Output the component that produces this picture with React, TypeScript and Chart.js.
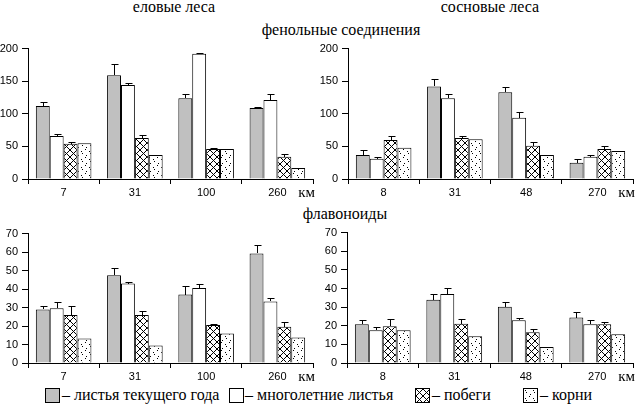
import React, { useEffect, useRef, useMemo } from 'react';
import { Chart, registerables } from 'chart.js';

Chart.register(...registerables);

const SERIF = '"Liberation Serif", "Times New Roman", "DejaVu Serif", serif';
const SANS = '"Liberation Sans", Arial, sans-serif';

// categories (distance, km)
const spruceKm = ['7', '31', '100', '260'];
const pineKm = ['8', '31', '48', '270'];

// y ranges [min, max, step]
const phenolRange = [0, 200, 50];
const flavRange = [0, 70, 10];

// series names
const seriesNames = ['листья текущего года', 'многолетние листья', 'побеги', 'корни'];

// phenolic compounds – spruce
const sprPhenCurrent = [112, 159, 124, 109];
const sprPhenCurrentErr = [6, 18, 6, 1];
const sprPhenPerennial = [66, 144, 192, 121];
const sprPhenPerennialErr = [3, 4, 1, 9];
const sprPhenShoots = [54, 63, 46, 34];
const sprPhenShootsErr = [3, 5, 1, 5];
const sprPhenRoots = [55, 37, 46, 17];

// phenolic compounds – pine
const pinPhenCurrent = [37, 142, 133, 25];
const pinPhenCurrentErr = [8, 12, 8, 5];
const pinPhenPerennial = [31, 124, 94, 34];
const pinPhenPerennialErr = [3, 6, 8, 3];
const pinPhenShoots = [60, 63, 51, 46];
const pinPhenShootsErr = [6, 3, 6, 5];
const pinPhenRoots = [48, 61, 37, 43];

// flavonoids – spruce
const sprFlavCurrent = [29, 47.5, 37, 59.3];
const sprFlavCurrentErr = [2, 3.7, 4.8, 4.7];
const sprFlavPerennial = [29.6, 43, 40.6, 33.3];
const sprFlavPerennialErr = [3.4, 1, 2.3, 2.1];
const sprFlavShoots = [25.9, 25.9, 20.6, 19.6];
const sprFlavShootsErr = [4.8, 2.1, 0.6, 2.6];
const sprFlavRoots = [13.2, 9.5, 15.9, 13.8];

// flavonoids – pine
const pinFlavCurrent = [20.8, 33.9, 30.2, 24.4];
const pinFlavCurrentErr = [2.1, 3.2, 2.7, 3.2];
const pinFlavPerennial = [17.6, 37.1, 22.9, 20.8];
const pinFlavPerennialErr = [1.9, 3.2, 1, 2.1];
const pinFlavShoots = [19.7, 21.1, 16.5, 20.8];
const pinFlavShootsErr = [3.7, 2.3, 1.6, 1];
const pinFlavRoots = [17.6, 14.4, 8.6, 15.5];

function makeTile(kind: string): HTMLCanvasElement {
  const n = kind === 'cross' ? 7 : 8;
  const c = document.createElement('canvas');
  c.width = n;
  c.height = n;
  const g = c.getContext('2d')!;
  g.fillStyle = '#fff';
  g.fillRect(0, 0, n, n);
  g.fillStyle = '#000';
  if (kind === 'cross') {
    for (let i = 0; i < n; i++) {
      g.fillRect(i, i, 1, 1);
      g.fillRect(n - 1 - i, i, 1, 1);
    }
  } else {
    const pts = [[1, 1], [2, 3], [6, 5], [5, 7]];
    pts.forEach(([x, y]) => g.fillRect(x, y, 1, 1));
  }
  return c;
}

const errorBarPlugin = {
  id: 'errbars',
  afterDatasetsDraw(chart: any) {
    const ctx = chart.ctx;
    const ys = chart.scales.y;
    ctx.save();
    ctx.strokeStyle = '#000';
    ctx.lineWidth = 1;
    chart.data.datasets.forEach((ds: any, i: number) => {
      const errs = ds.errors;
      if (!errs) return;
      const meta = chart.getDatasetMeta(i);
      meta.data.forEach((bar: any, j: number) => {
        const e = errs[j];
        if (!e) return;
        const v = ds.data[j];
        const x = Math.round(bar.x) + 0.5;
        const y0 = Math.round(bar.y);
        const y1 = Math.round(ys.getPixelForValue(v + e)) + 0.5;
        ctx.beginPath();
        ctx.moveTo(x, y0);
        ctx.lineTo(x, y1);
        ctx.moveTo(x - 3, y1);
        ctx.lineTo(x + 4, y1);
        ctx.stroke();
      });
    });
    ctx.restore();
  },
};

const kmPlugin = {
  id: 'kmlabel',
  afterDraw(chart: any) {
    const ctx = chart.ctx;
    const a = chart.chartArea;
    ctx.save();
    ctx.font = `15px ${SERIF}`;
    ctx.fillStyle = '#000';
    ctx.textAlign = 'right';
    ctx.textBaseline = 'alphabetic';
    ctx.fillText('км', a.right + 2, a.bottom + 18);
    ctx.restore();
  },
};

type PanelProps = {
  left: number;
  top: number;
  width: number;
  height: number;
  yWidth: number;
  padRight: number;
  labels: string[];
  values: number[][];
  errors: (number[] | null)[];
  range: number[];
};

function Panel(p: PanelProps) {
  const ref = useRef<HTMLCanvasElement>(null);
  useEffect(() => {
    const canvas = ref.current!;
    const ctx = canvas.getContext('2d')!;
    const cross = ctx.createPattern(makeTile('cross'), 'repeat');
    const dots = ctx.createPattern(makeTile('dots'), 'repeat');
    const fills: any[] = ['#c0c0c0', '#ffffff', cross, dots];
    const chart = new Chart(canvas, {
      type: 'bar',
      data: {
        labels: p.labels,
        datasets: p.values.map((v, i) => ({
          label: seriesNames[i],
          data: v,
          errors: p.errors[i],
          backgroundColor: fills[i],
          borderColor: '#000',
          borderWidth: 1,
          categoryPercentage: 0.78,
          barPercentage: 1,
        })) as any,
      },
      options: {
        animation: false,
        responsive: false,
        devicePixelRatio: 1,
        layout: { padding: { top: 8, right: p.padRight, left: 0, bottom: 0 } },
        plugins: { legend: { display: false }, tooltip: { enabled: false } },
        scales: {
          x: {
            grid: {
              offset: true,
              drawOnChartArea: false,
              drawTicks: true,
              tickLength: 5,
              color: '#000',
            },
            border: { display: true, color: '#000', width: 1 },
            ticks: {
              color: '#000',
              font: { family: SANS, size: 11 },
              padding: 2,
              maxRotation: 0,
              autoSkip: false,
            },
            afterFit: (s: any) => {
              s.height = 22;
            },
          },
          y: {
            min: p.range[0],
            max: p.range[1],
            grid: {
              drawOnChartArea: false,
              drawTicks: true,
              tickLength: 6,
              color: '#000',
            },
            border: { display: true, color: '#000', width: 1 },
            ticks: {
              stepSize: p.range[2],
              color: '#000',
              font: { family: SANS, size: 11 },
              padding: 4,
            },
            afterFit: (s: any) => {
              s.width = p.yWidth;
            },
          },
        },
      } as any,
      plugins: [errorBarPlugin, kmPlugin],
    });
    return () => chart.destroy();
  }, []);
  return (
    <canvas
      ref={ref}
      width={p.width}
      height={p.height}
      style={{ position: 'absolute', left: p.left, top: p.top, width: p.width, height: p.height }}
    />
  );
}

function Text({ x, y, children, align = 'center', size = 16 }: any) {
  const style: any = {
    position: 'absolute',
    top: y,
    fontFamily: SERIF,
    fontSize: size,
    lineHeight: '16px',
    whiteSpace: 'nowrap',
    color: '#000',
  };
  if (align === 'center') {
    style.left = x - 200;
    style.width = 400;
    style.textAlign = 'center';
  } else {
    style.left = x;
  }
  return <div style={style}>{children}</div>;
}

export default function App() {
  const urls = useMemo(
    () => ({ cross: makeTile('cross').toDataURL(), dots: makeTile('dots').toDataURL() }),
    []
  );
  const swatch = (x: number, bg: string) => (
    <div
      style={{
        position: 'absolute',
        left: x,
        top: 388,
        width: 15,
        height: 15,
        boxSizing: 'border-box',
        border: '1px solid #000',
        background: bg,
      }}
    />
  );
  return (
    <div
      style={{
        position: 'fixed',
        left: 0,
        top: 0,
        width: 636,
        height: 406,
        background: '#fff',
        overflow: 'hidden',
      }}
    >
      <Text x={174} y={-1}>еловые леса</Text>
      <Text x={490} y={-1}>сосновые леса</Text>
      <Text x={341} y={22}>фенольные соединения</Text>
      <Text x={345} y={206}>флавоноиды</Text>

      <Panel
        left={0}
        top={38}
        width={318}
        height={163}
        yWidth={28}
        padRight={5}
        labels={spruceKm}
        values={[sprPhenCurrent, sprPhenPerennial, sprPhenShoots, sprPhenRoots]}
        errors={[sprPhenCurrentErr, sprPhenPerennialErr, sprPhenShootsErr, null]}
        range={phenolRange}
      />
      <Panel
        left={318}
        top={38}
        width={318}
        height={163}
        yWidth={30}
        padRight={3}
        labels={pineKm}
        values={[pinPhenCurrent, pinPhenPerennial, pinPhenShoots, pinPhenRoots]}
        errors={[pinPhenCurrentErr, pinPhenPerennialErr, pinPhenShootsErr, null]}
        range={phenolRange}
      />
      <Panel
        left={0}
        top={223}
        width={318}
        height={162}
        yWidth={28}
        padRight={5}
        labels={spruceKm}
        values={[sprFlavCurrent, sprFlavPerennial, sprFlavShoots, sprFlavRoots]}
        errors={[sprFlavCurrentErr, sprFlavPerennialErr, sprFlavShootsErr, null]}
        range={flavRange}
      />
      <Panel
        left={318}
        top={222}
        width={318}
        height={163}
        yWidth={29}
        padRight={3}
        labels={pineKm}
        values={[pinFlavCurrent, pinFlavPerennial, pinFlavShoots, pinFlavRoots]}
        errors={[pinFlavCurrentErr, pinFlavPerennialErr, pinFlavShootsErr, null]}
        range={flavRange}
      />

      {swatch(45, '#c0c0c0')}
      <Text x={62} y={387} align="left">– {seriesNames[0]}</Text>
      {swatch(229, '#ffffff')}
      <Text x={245} y={387} align="left">– {seriesNames[1]}</Text>
      {swatch(415, `url(${urls.cross})`)}
      <Text x={432} y={387} align="left">– {seriesNames[2]}</Text>
      {swatch(523, `url(${urls.dots})`)}
      <Text x={540} y={387} align="left">– {seriesNames[3]}</Text>
    </div>
  );
}
